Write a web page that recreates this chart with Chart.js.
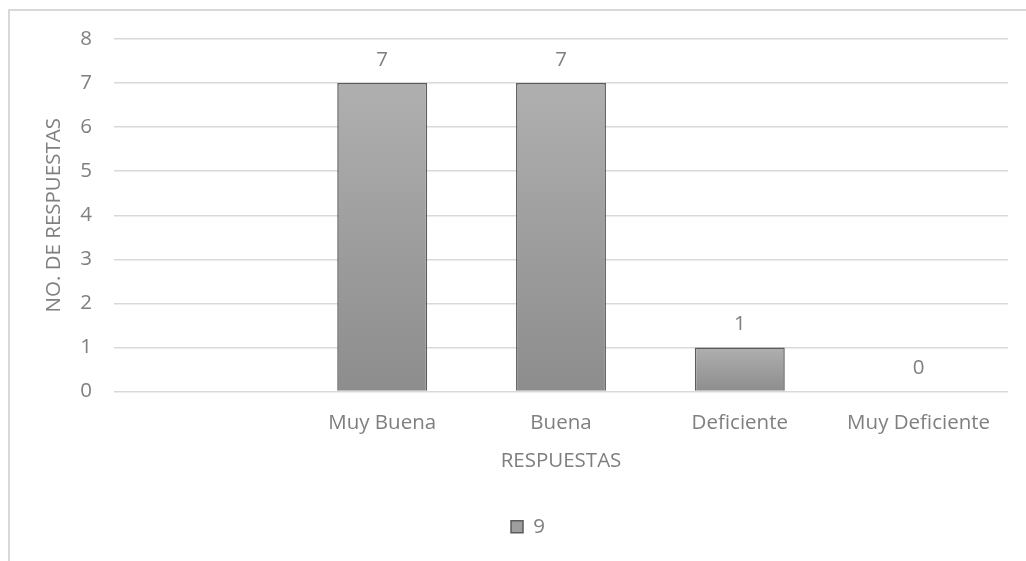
<!DOCTYPE html>
<html>
<head>
<meta charset="utf-8">
<script src="https://cdn.jsdelivr.net/npm/chart.js@4/dist/chart.umd.min.js"></script>
<style>
    html, body { margin: 0; padding: 0; background: #fff; }
    #frame {
        position: absolute;
        left: 8px;
        top: 9px;
        width: 1018px;
        height: 552px;
        border-top: 2px solid #d9d9d9;
        border-left: 2px solid #d9d9d9;
    }
    #wrap { position: absolute; left: 0; top: 0; width: 1026px; height: 561px; }
</style>
</head>
<body>
<div id="frame"></div>
<div id="wrap"><canvas id="chart" width="1026" height="561"></canvas></div>
<script>
const categories = ['', 'Muy Buena', 'Buena', 'Deficiente', 'Muy Deficiente'];
const respuestas = [null, 7, 7, 1, 0];
const seriesName = '9';
const yTicks = [0, 1, 2, 3, 4, 5, 6, 7, 8];

const textColor = '#7f7f7f';
const fontFamily = '"Open Sans", "Noto Sans", sans-serif';
const fontSize = 20.5;

// gris con degradado vertical dentro de cada barra
const barFill = (ctx) => {
    const chart = ctx.chart;
    const y = chart.scales.y;
    const v = ctx.raw;
    if (!y || v === null || v === undefined || y.top === undefined) {
        return '#9e9e9e';
    }
    const top = y.getPixelForValue(v);
    const bottom = y.getPixelForValue(0);
    if (!isFinite(top) || bottom - top < 1) {
        return '#9e9e9e';
    }
    const g = chart.ctx.createLinearGradient(0, top, 0, bottom);
    g.addColorStop(0, '#afafaf');
    g.addColorStop(1, '#8d8d8d');
    return g;
};

const valueLabels = {
    id: 'valueLabels',
    afterDatasetsDraw(chart) {
        const ctx = chart.ctx;
        const meta = chart.getDatasetMeta(0);
        ctx.save();
        ctx.fillStyle = textColor;
        ctx.font = fontSize + 'px ' + fontFamily;
        ctx.textAlign = 'center';
        ctx.textBaseline = 'middle';
        meta.data.forEach((bar, i) => {
            const v = respuestas[i];
            if (v === null || v === undefined) return;
            ctx.fillText(String(v), bar.x, bar.y - 23);
        });
        ctx.restore();
    }
};

// la leyenda va un poco a la derecha del centro del lienzo
const legendShift = {
    id: 'legendShift',
    afterLayout(chart) {
        if (chart.legend) {
            chart.legend.left += 14;
            chart.legend.right += 14;
        }
    }
};

new Chart(document.getElementById('chart').getContext('2d'), {
    type: 'bar',
    data: {
        labels: categories,
        datasets: [{
            label: seriesName,
            data: respuestas,
            backgroundColor: barFill,
            borderColor: '#5c5c5c',
            borderWidth: 1.5,
            barPercentage: 0.503,
            categoryPercentage: 1.0,
        }]
    },
    options: {
        responsive: false,
        animation: false,
        layout: {
            padding: { left: 20, right: 18, top: 39, bottom: 14 }
        },
        plugins: {
            tooltip: { enabled: false },
            legend: {
                position: 'bottom',
                labels: {
                    color: textColor,
                    font: { family: fontFamily, size: fontSize },
                    boxWidth: 12,
                    boxHeight: 12,
                    padding: 5,
                    generateLabels: () => [{
                        text: seriesName,
                        fillStyle: '#9e9e9e',
                        strokeStyle: '#5c5c5c',
                        lineWidth: 1.5,
                        fontColor: textColor,
                        datasetIndex: 0,
                    }]
                }
            }
        },
        scales: {
            x: {
                grid: { display: false, drawTicks: false },
                border: { display: false },
                ticks: {
                    color: textColor,
                    font: { family: fontFamily, size: fontSize },
                    padding: 19,
                    maxRotation: 0,
                },
                title: {
                    display: true,
                    text: 'RESPUESTAS',
                    color: textColor,
                    font: { family: fontFamily, size: fontSize },
                    padding: { top: 0, bottom: 38 },
                },
                afterFit: (s) => { s.height = 120; }
            },
            y: {
                min: 0,
                max: 8,
                afterBuildTicks: (s) => { s.ticks = yTicks.map(v => ({ value: v })); },
                grid: { color: '#d9d9d9', lineWidth: 1.5, drawTicks: false },
                border: { display: false },
                ticks: {
                    color: textColor,
                    font: { family: fontFamily, size: fontSize },
                    padding: 22,
                },
                title: {
                    display: true,
                    text: 'NO. DE RESPUESTAS',
                    color: textColor,
                    font: { family: fontFamily, size: fontSize },
                    padding: { top: 22, bottom: 0 },
                },
                afterFit: (s) => { s.width = 94; }
            }
        }
    },
    plugins: [valueLabels, legendShift]
});
</script>
</body>
</html>
